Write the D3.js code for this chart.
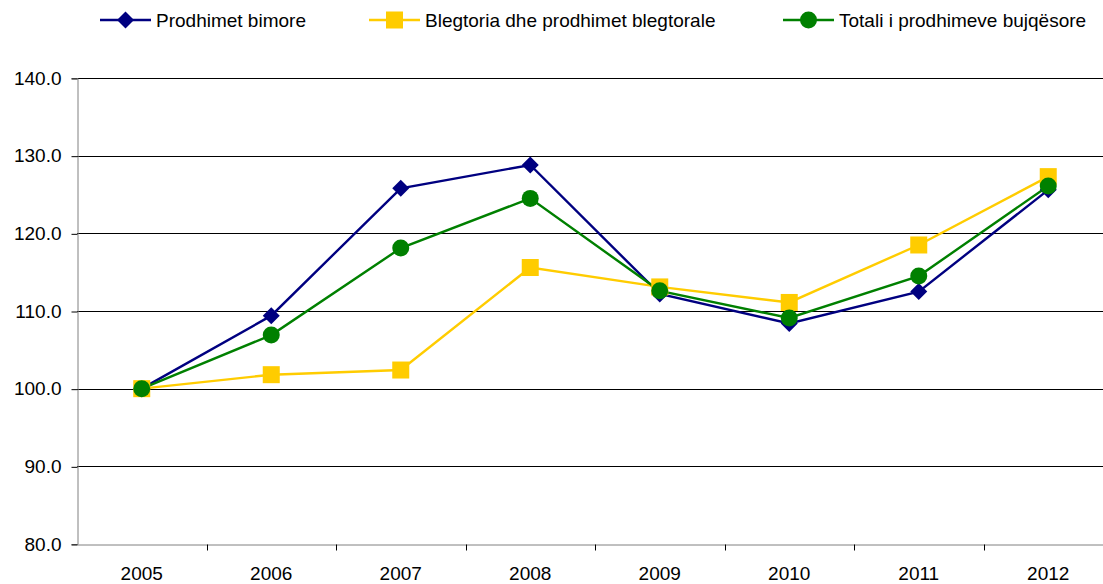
<!DOCTYPE html>
<html>
<head>
<meta charset="utf-8">
<script src="https://cdn.jsdelivr.net/npm/d3@7"></script>
<style>
  body { margin: 0; background: #fff; }
  svg { font-family: "Liberation Sans", Arial, sans-serif; }
</style>
</head>
<body>
<div id="chart"></div>
<script>
const width = 1103;
const height = 584;

const years = ["2005", "2006", "2007", "2008", "2009", "2010", "2011", "2012"];
const bimore = [100.0, 109.4, 125.8, 128.8, 112.2, 108.4, 112.5, 125.6];
const blegtoria = [100.0, 101.8, 102.4, 115.6, 113.1, 111.1, 118.5, 127.3];
const totali = [100.0, 106.9, 118.1, 124.5, 112.6, 109.1, 114.5, 126.1];
const yTicks = [80, 90, 100, 110, 120, 130, 140];

const series = [
  { name: "Prodhimet bimore", values: bimore, color: "#000080", marker: "diamond" },
  { name: "Blegtoria dhe prodhimet blegtorale", values: blegtoria, color: "#FFCC00", marker: "square" },
  { name: "Totali i prodhimeve bujqësore", values: totali, color: "#008000", marker: "circle" }
];

const margin = { left: 77, top: 78, right: 1113, bottom: 544 };
const fontSize = 19;

const svg = d3.select("#chart")
  .append("svg")
  .attr("width", width)
  .attr("height", height);

const x = d3.scaleBand()
  .domain(years)
  .range([margin.left, margin.right]);

const y = d3.scaleLinear()
  .domain([80, 140])
  .range([margin.bottom, margin.top]);

// gridlines
svg.append("g")
  .selectAll("line")
  .data(yTicks.filter(d => d > 80))
  .enter()
  .append("line")
  .attr("x1", margin.left)
  .attr("x2", margin.right)
  .attr("y1", d => Math.round(y(d)) + 0.5)
  .attr("y2", d => Math.round(y(d)) + 0.5)
  .attr("stroke", "#000")
  .attr("stroke-width", 1);

// y axis
const yAxis = svg.append("g")
  .attr("transform", `translate(${margin.left + 0.5},0)`)
  .call(d3.axisLeft(y).tickValues(yTicks).tickSize(6).tickFormat(d3.format(".1f")));
yAxis.select(".domain").attr("stroke", "#808080");
yAxis.selectAll(".tick line").attr("stroke", "#000").attr("transform", "translate(0,0.5)");
yAxis.selectAll(".tick text")
  .attr("font-size", fontSize)
  .attr("font-family", "Liberation Sans, Arial, sans-serif")
  .attr("fill", "#000")
  .attr("x", -16);

// x axis
const xAxis = svg.append("g")
  .attr("transform", `translate(0,${Math.round(y(80)) + 0.5})`)
  .call(d3.axisBottom(x).tickSize(0));
xAxis.select(".domain").attr("stroke", "#808080");
xAxis.selectAll(".tick text")
  .attr("font-size", fontSize)
  .attr("font-family", "Liberation Sans, Arial, sans-serif")
  .attr("fill", "#000")
  .attr("y", 35)
  .attr("dy", 0);

// x tick marks between categories
xAxis.selectAll(".sep")
  .data(years.slice(1))
  .enter()
  .append("line")
  .attr("class", "sep")
  .attr("x1", d => Math.round(x(d)) + 0.5)
  .attr("x2", d => Math.round(x(d)) + 0.5)
  .attr("y1", 0)
  .attr("y2", 6)
  .attr("stroke", "#000");

const cx = d => x(d) + x.bandwidth() / 2;

function drawMarker(g, type, color) {
  if (type === "diamond") {
    g.append("path")
      .attr("d", "M0,-8.5L8.5,0L0,8.5L-8.5,0Z")
      .attr("fill", color);
  } else if (type === "square") {
    g.append("rect")
      .attr("x", -8.5).attr("y", -8.5)
      .attr("width", 17).attr("height", 17)
      .attr("fill", color);
  } else {
    g.append("circle")
      .attr("r", 8.5)
      .attr("fill", color);
  }
}

const line = d3.line()
  .x((d, i) => cx(years[i]))
  .y(d => y(d));

series.forEach(s => {
  svg.append("path")
    .datum(s.values)
    .attr("d", line)
    .attr("fill", "none")
    .attr("stroke", s.color)
    .attr("stroke-width", 2.4);
});

series.forEach(s => {
  s.values.forEach((v, i) => {
    const g = svg.append("g")
      .attr("transform", `translate(${cx(years[i])},${y(v)})`);
    drawMarker(g, s.marker, s.color);
  });
});

// legend
const legendX = [100, 369, 783];
series.forEach((s, i) => {
  const lg = svg.append("g").attr("transform", `translate(${legendX[i]},20)`);
  lg.append("line")
    .attr("x1", 0).attr("x2", 51)
    .attr("stroke", s.color)
    .attr("stroke-width", 2.4);
  const m = lg.append("g").attr("transform", "translate(25.5,0)");
  drawMarker(m, s.marker, s.color);
  lg.append("text")
    .attr("x", 56)
    .attr("y", 6.5)
    .attr("font-size", fontSize)
    .attr("fill", "#000")
    .text(s.name);
});
</script>
</body>
</html>
